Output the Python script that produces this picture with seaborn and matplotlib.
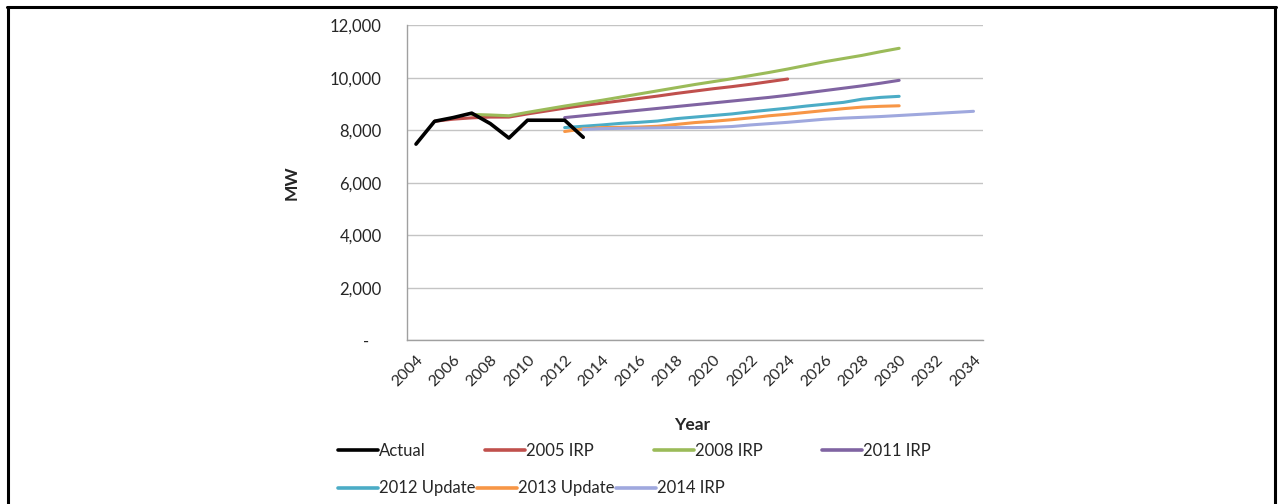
import pandas as pd
import seaborn as sns
import matplotlib.pyplot as plt
from matplotlib.lines import Line2D
from matplotlib.ticker import MultipleLocator, FixedLocator

# data (MW by year)
actual_years = list(range(2004, 2014))
actual = [7470, 8340, 8480, 8650, 8250, 7700, 8380, 8380, 8380, 7730]

irp2005_years = list(range(2005, 2025))
irp2005 = [8340, 8420, 8470, 8500, 8500, 8620, 8730, 8840, 8940, 9030,
           9120, 9210, 9300, 9400, 9490, 9580, 9660, 9750, 9850, 9950]

irp2008_years = list(range(2007, 2031))
irp2008 = [8600, 8580, 8550, 8680, 8800, 8920, 9030, 9140, 9260, 9380,
           9500, 9620, 9740, 9850, 9960, 10080, 10200, 10330, 10470, 10610,
           10730, 10850, 10990, 11120]

irp2011_years = list(range(2012, 2031))
irp2011 = [8480, 8550, 8620, 8690, 8760, 8830, 8900, 8970, 9040, 9110,
           9180, 9250, 9330, 9420, 9510, 9600, 9690, 9790, 9900]

upd2012_years = list(range(2012, 2031))
upd2012 = [8100, 8150, 8200, 8260, 8300, 8350, 8440, 8500, 8560, 8620,
           8700, 8770, 8840, 8920, 8990, 9060, 9180, 9250, 9290]

upd2013_years = list(range(2012, 2031))
upd2013 = [7950, 8050, 8100, 8110, 8120, 8150, 8220, 8290, 8340, 8400,
           8470, 8550, 8610, 8680, 8750, 8820, 8880, 8910, 8930]

irp2014_years = list(range(2013, 2035))
irp2014 = [8030, 8060, 8070, 8080, 8090, 8100, 8100, 8110, 8140, 8200,
           8250, 8300, 8360, 8420, 8460, 8490, 8520, 8560, 8600, 8640,
           8680, 8720]

series = ["Actual", "2005 IRP", "2008 IRP", "2011 IRP",
          "2012 Update", "2013 Update", "2014 IRP"]
colors = ["#000000", "#C0504D", "#9BBB59", "#8064A2",
          "#4BACC6", "#F79646", "#9FA8DE"]

frames = []
for name, yrs, vals in [("Actual", actual_years, actual),
                        ("2005 IRP", irp2005_years, irp2005),
                        ("2008 IRP", irp2008_years, irp2008),
                        ("2011 IRP", irp2011_years, irp2011),
                        ("2012 Update", upd2012_years, upd2012),
                        ("2013 Update", upd2013_years, upd2013),
                        ("2014 IRP", irp2014_years, irp2014)]:
    frames.append(pd.DataFrame({"Year": yrs, "MW": vals, "Series": name}))
df = pd.concat(frames, ignore_index=True)

sns.set_style("white")
plt.rcParams["font.family"] = ["Lato", "DejaVu Sans"]
plt.rcParams["text.color"] = "#262626"
plt.rcParams["xtick.color"] = "#262626"
plt.rcParams["ytick.color"] = "#262626"

fig = plt.figure(figsize=(12.83, 5.04), dpi=100)
ax = fig.add_axes([0.317, 0.325, 0.449, 0.625])

# draw forecasts first so Actual sits on top
order = series[1:] + series[:1]
for name in order:
    sub = df[df["Series"] == name]
    sns.lineplot(data=sub, x="Year", y="MW", color=colors[series.index(name)],
                 linewidth=2.6 if name == "Actual" else 2.2, ax=ax,
                 zorder=4 if name == "Actual" else 3)

ax.set_xlim(2003.5, 2034.5)
ax.set_ylim(0, 12000)
ax.yaxis.set_major_locator(MultipleLocator(2000))
ax.set_yticklabels(["-   " if v == 0 else f"{int(v):,}" for v in ax.get_yticks()])
ax.grid(axis="y", color="#C4C4C4", linewidth=1)
ax.set_axisbelow(True)

ax.set_xticks(list(range(2004, 2035, 2)))
ax.set_xticklabels([str(y) for y in range(2004, 2035, 2)], rotation=45,
                   ha="right", rotation_mode="anchor")
ax.xaxis.set_minor_locator(FixedLocator([y + 0.5 for y in range(2003, 2035)]))
ax.tick_params(axis="x", which="major", length=0, pad=9, labelsize=11.5)
ax.tick_params(axis="x", which="minor", length=5, color="#A0A0A0", width=1)
ax.tick_params(axis="y", length=0, pad=18, labelsize=12)

for s in ["top", "right"]:
    ax.spines[s].set_visible(False)
for s in ["left", "bottom"]:
    ax.spines[s].set_color("#A0A0A0")
    ax.spines[s].set_linewidth(1)

ax.set_xlabel("Year", fontsize=12.5, fontweight="bold")
ax.xaxis.set_label_coords(0.495, -0.243)
ax.set_ylabel("MW", fontsize=12.5, fontweight="bold")
ax.yaxis.set_label_coords(-0.186, 0.5)

handles = [Line2D([0], [0], color=c, linewidth=2.6) for c in colors]
leg1 = fig.legend(handles[:4], series[:4], loc="upper left",
                  bbox_to_anchor=(0.258, 0.135), ncol=4, frameon=False,
                  fontsize=12, handlelength=2.4, handletextpad=0.05,
                  columnspacing=3.6, borderaxespad=0)
leg2 = fig.legend(handles[4:], series[4:], loc="upper left",
                  bbox_to_anchor=(0.258, 0.06), ncol=3, frameon=False,
                  fontsize=12, handlelength=2.4, handletextpad=0.05,
                  columnspacing=0.1, borderaxespad=0)

# page frame around the embedded chart
fig.add_artist(Line2D([7 / 1283, 1276 / 1283], [1 - 7 / 504, 1 - 7 / 504],
                      color="black", linewidth=2.2, transform=fig.transFigure))
fig.add_artist(Line2D([8 / 1283, 8 / 1283], [0, 1 - 7 / 504],
                      color="black", linewidth=2.2, transform=fig.transFigure))
fig.add_artist(Line2D([1275 / 1283, 1275 / 1283], [0, 1 - 7 / 504],
                      color="black", linewidth=2.2, transform=fig.transFigure))

fig.savefig("out.png", dpi=100)
